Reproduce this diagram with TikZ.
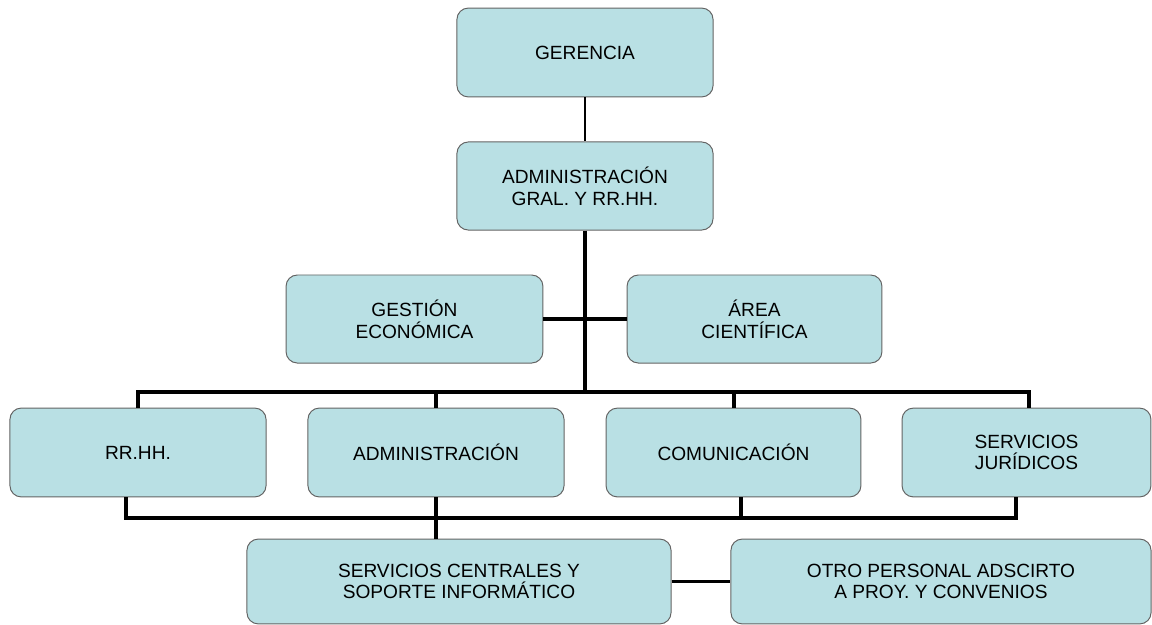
\documentclass[tikz,border=0pt]{standalone}
\usepackage{fontspec}
\setmainfont{Liberation Sans}
\definecolor{cajafondo}{RGB}{185,224,228}
\definecolor{cajaborde}{RGB}{100,100,100}
\begin{document}
\begin{tikzpicture}[x=0.025cm,y=-0.025cm,
	caja/.style={draw=cajaborde,line width=0.7pt,fill=cajafondo,rounded corners=8pt,align=center,inner sep=0pt,font=\fontsize{13.6}{15.4}\selectfont},
	linea/.style={line width=2.85pt},
	fina/.style={line width=2.1pt}]

				\useasboundingbox (0,0) rectangle (1152,625);

				\node[caja,minimum width=6.4cm,minimum height=2.22cm] (ger) at (585,52.5) {GERENCIA};
				\node[caja,minimum width=6.4cm,minimum height=2.2cm] (adm) at (585,186) {ADMINISTRACIÓN\\GRAL. Y RR.HH.};
				\node[caja,minimum width=6.42cm,minimum height=2.2cm] (eco) at (414.5,319) {GESTIÓN\\ECONÓMICA};
				\node[caja,minimum width=6.37cm,minimum height=2.2cm] (cie) at (754.5,319) {ÁREA\\CIENTÍFICA};

				\node[caja,minimum width=6.4cm,minimum height=2.22cm] (rrhh) at (138,452.5) {RR.HH.};
				\node[caja,minimum width=6.4cm,minimum height=2.22cm] (admin) at (436,452.5) {ADMINISTRACIÓN};
				\node[caja,minimum width=6.37cm,minimum height=2.22cm] (com) at (733.5,452.5) {COMUNICACIÓN};
				\node[caja,minimum width=6.22cm,minimum height=2.22cm] (jur) at (1026.5,452.5) {SERVICIOS\\JURÍDICOS};

				\node[caja,minimum width=10.6cm,minimum height=2.12cm] (cen) at (459,581.5) {SERVICIOS CENTRALES Y\\SOPORTE INFORMÁTICO};
				\node[caja,minimum width=10.5cm,minimum height=2.12cm] (otr) at (941,581.5) {OTRO PERSONAL ADSCIRTO\\A PROY. Y CONVENIOS};

				\coordinate (bus) at (585,392);
				\coordinate (t4) at (1029,392);
				\coordinate (b1) at (126,518);
				\coordinate (b3) at (741,518);
				\coordinate (b4) at (1016,518);

				\draw[fina] (ger) -- (adm);
				\draw[linea] (adm.south) -- (bus);
				\draw[linea] (eco.east) -- (cie.west);

				\draw[linea] (rrhh.north) -- (rrhh |- bus) -- (t4) -- (t4 |- jur.north);
				\draw[linea] (admin.north) -- (admin |- bus);
				\draw[linea] (com.north) -- (com |- bus);

				\draw[linea] (b1 |- rrhh.south) -- (b1) -- (b4) -- (b4 |- jur.south);
				\draw[linea] (admin.south) -- (admin |- cen.north);
				\draw[linea] (b3 |- com.south) -- (b3);

				\draw[fina] (cen.east) -- (otr.west);

				\end{tikzpicture}
\end{document}
